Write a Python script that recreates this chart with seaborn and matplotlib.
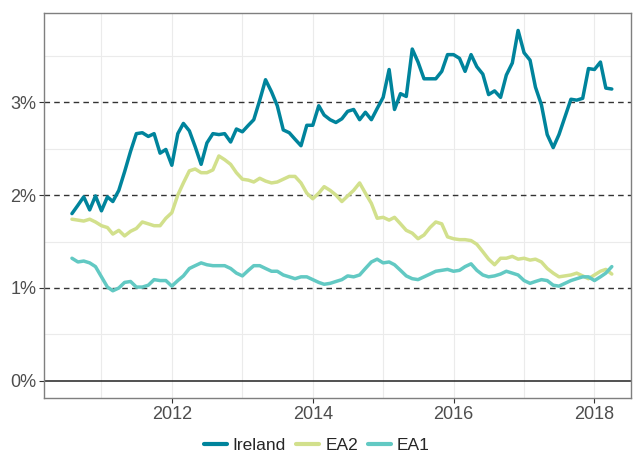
import matplotlib
matplotlib.use('Agg')
import numpy as np
import pandas as pd
import matplotlib.pyplot as plt
import matplotlib.dates as mdates
from matplotlib.ticker import FuncFormatter, MultipleLocator
import seaborn as sns

# monthly series, Aug 2010 - Apr 2018 (percent)
dates = pd.date_range("2010-08-01", periods=93, freq="MS")

ireland = [1.80, 1.89, 1.98, 1.84, 1.99, 1.83, 1.98, 1.93, 2.05, 2.25,
           2.47, 2.66, 2.67, 2.63, 2.66, 2.45, 2.49, 2.32, 2.66, 2.77,
           2.69, 2.52, 2.33, 2.56, 2.66, 2.65, 2.66, 2.57, 2.71, 2.68,
           2.75, 2.81, 3.02, 3.24, 3.11, 2.96, 2.70, 2.67, 2.60, 2.53,
           2.75, 2.75, 2.96, 2.86, 2.81, 2.78, 2.82, 2.90, 2.92, 2.81,
           2.89, 2.81, 2.93, 3.05, 3.35, 2.92, 3.09, 3.06, 3.57, 3.43,
           3.25, 3.25, 3.25, 3.33, 3.51, 3.51, 3.47, 3.33, 3.51, 3.38,
           3.30, 3.08, 3.12, 3.05, 3.29, 3.42, 3.77, 3.53, 3.45, 3.16,
           2.97, 2.65, 2.51, 2.65, 2.84, 3.03, 3.02, 3.04, 3.36, 3.35,
           3.43, 3.15, 3.14]

ea2 = [1.74, 1.73, 1.72, 1.74, 1.71, 1.67, 1.65, 1.58, 1.62, 1.56,
       1.61, 1.64, 1.71, 1.69, 1.67, 1.67, 1.75, 1.81, 2.00, 2.13,
       2.26, 2.28, 2.24, 2.24, 2.27, 2.42, 2.38, 2.33, 2.24, 2.17,
       2.16, 2.14, 2.18, 2.15, 2.13, 2.14, 2.17, 2.20, 2.20, 2.13,
       2.02, 1.96, 2.02, 2.09, 2.05, 2.00, 1.93, 1.99, 2.05, 2.13,
       2.02, 1.91, 1.75, 1.76, 1.73, 1.76, 1.69, 1.62, 1.59, 1.53,
       1.57, 1.65, 1.71, 1.69, 1.55, 1.53, 1.52, 1.52, 1.51, 1.47,
       1.39, 1.31, 1.25, 1.32, 1.32, 1.34, 1.31, 1.32, 1.30, 1.31,
       1.28, 1.21, 1.16, 1.12, 1.13, 1.14, 1.16, 1.13, 1.10, 1.14,
       1.18, 1.20, 1.15]

ea1 = [1.32, 1.28, 1.29, 1.27, 1.23, 1.12, 1.01, 0.97, 1.00, 1.06,
       1.07, 1.01, 1.01, 1.03, 1.09, 1.08, 1.08, 1.02, 1.08, 1.13,
       1.21, 1.24, 1.27, 1.25, 1.24, 1.24, 1.24, 1.21, 1.16, 1.13,
       1.19, 1.24, 1.24, 1.21, 1.18, 1.18, 1.14, 1.12, 1.10, 1.12,
       1.12, 1.09, 1.06, 1.04, 1.05, 1.07, 1.09, 1.13, 1.12, 1.14,
       1.21, 1.28, 1.31, 1.27, 1.28, 1.25, 1.19, 1.13, 1.10, 1.09,
       1.12, 1.15, 1.18, 1.19, 1.20, 1.18, 1.19, 1.23, 1.26, 1.19,
       1.14, 1.12, 1.13, 1.15, 1.18, 1.16, 1.14, 1.08, 1.05, 1.07,
       1.09, 1.08, 1.03, 1.02, 1.05, 1.08, 1.10, 1.12, 1.12, 1.08,
       1.12, 1.16, 1.23]

series_names = ["Ireland", "EA2", "EA1"]
colors = {"Ireland": "#00849C", "EA2": "#D2E08C", "EA1": "#62C9C3"}

df = pd.concat([
    pd.DataFrame({"date": dates, "value": v, "series": name})
    for name, v in zip(series_names, [ireland, ea2, ea1])
])

sns.set_style("white")
plt.rcParams['font.family'] = ['Liberation Sans', 'DejaVu Sans']

fig = plt.figure(figsize=(6.34, 4.55), dpi=100)
ax = fig.add_axes([0.0694, 0.1253, 0.926, 0.846])

# light grid first
for yv in [0.5, 1.5, 2.5, 3.5]:
    ax.axhline(yv, color="#EBEBEB", lw=0.8, zorder=0)
for yr in range(2011, 2019):
    ax.axvline(pd.Timestamp(f"{yr}-01-01"), color="#EBEBEB", lw=0.8, zorder=0)
for yv in [1, 2, 3]:
    ax.axhline(yv, color="#333333", lw=1.0, ls=(0, (4, 3)), zorder=1)
ax.axhline(0, color="#222222", lw=1.1, zorder=1)

sns.lineplot(data=df, x="date", y="value", hue="series", hue_order=series_names,
             palette=colors, lw=2.5, ax=ax, zorder=3)

ax.set_xlim(pd.Timestamp("2010-03-09"), pd.Timestamp("2018-07-10"))
ax.set_ylim(-0.183, 3.957)
ax.xaxis.set_major_locator(mdates.YearLocator(2))
ax.xaxis.set_major_formatter(mdates.DateFormatter("%Y"))
ax.yaxis.set_major_locator(MultipleLocator(1))
ax.yaxis.set_major_formatter(FuncFormatter(lambda v, p: "{:.0f}%".format(v)))
ax.set_xlabel("")
ax.set_ylabel("")
ax.tick_params(axis="both", bottom=True, left=True, direction="out",
               length=3.5, width=0.8, color="#333333",
               labelsize=13, labelcolor="#4D4D4D", pad=2)
for sp in ax.spines.values():
    sp.set_color("#7F7F7F")
    sp.set_linewidth(1.0)

leg = ax.legend(loc="center", bbox_to_anchor=(0.5, 0.02), bbox_transform=fig.transFigure,
                ncol=3, frameon=False, fontsize=12.5, handlelength=1.3,
                handletextpad=0.35, columnspacing=0.6)
for line in leg.get_lines():
    line.set_linewidth(3.0)

fig.savefig("out.png", dpi=100)
